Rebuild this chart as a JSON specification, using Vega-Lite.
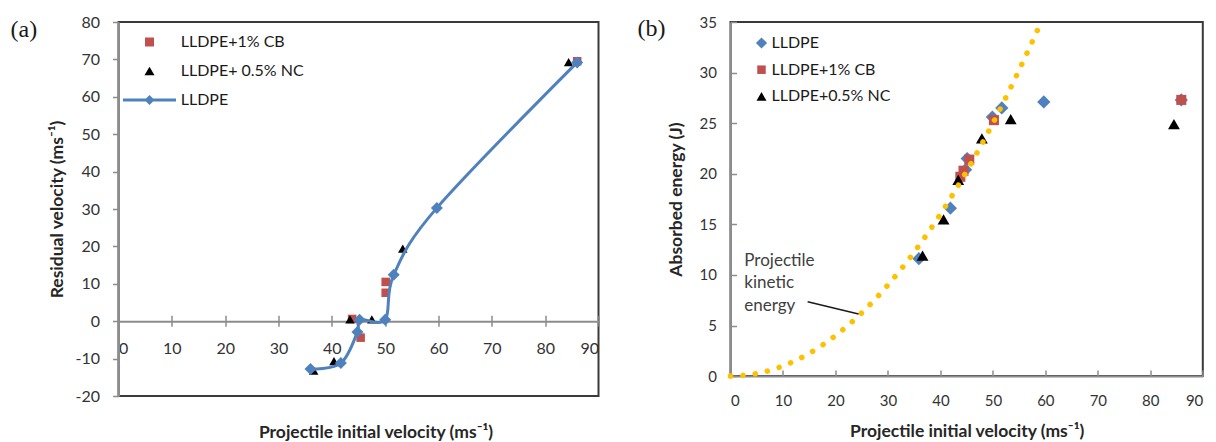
{
  "$schema": "https://vega.github.io/schema/vega-lite/v6.json",
  "background": "white",
  "padding": {"left": 9.5, "top": 10, "right": 0, "bottom": 0},
  "config": {
    "view": {"stroke": "#3a3a3a", "strokeWidth": 2},
    "font": "Lato",
    "axis": {"grid": false, "labelFont": "Lato", "titleFont": "Lato", "labelColor": "#333333", "titleColor": "#262626", "titleFontWeight": "bold", "titleFontSize": 17.5, "domainColor": "#8c8c8c", "domainWidth": 2, "tickColor": "#8c8c8c", "tickWidth": 1.5},
    "legend": {"labelFont": "Lato", "labelFontSize": 16, "labelColor": "#1a1a1a", "padding": 0}
  },
  "datasets": {
    "a": [
      {"series": "LLDPE+1% CB", "v": 43.8, "r": 0.6},
      {"series": "LLDPE+1% CB", "v": 45.4, "r": -4.4},
      {"series": "LLDPE+1% CB", "v": 50.1, "r": 7.6},
      {"series": "LLDPE+1% CB", "v": 50.1, "r": 10.5},
      {"series": "LLDPE+1% CB", "v": 86.0, "r": 69.5},
      {"series": "LLDPE+ 0.5% NC", "v": 36.6, "r": -13.2},
      {"series": "LLDPE+ 0.5% NC", "v": 40.4, "r": -10.7},
      {"series": "LLDPE+ 0.5% NC", "v": 43.4, "r": 0.5},
      {"series": "LLDPE+ 0.5% NC", "v": 47.5, "r": 0.5},
      {"series": "LLDPE+ 0.5% NC", "v": 53.3, "r": 19.4},
      {"series": "LLDPE+ 0.5% NC", "v": 84.4, "r": 69.3},
      {"series": "LLDPE", "v": 36.0, "r": -12.8},
      {"series": "LLDPE", "v": 41.7, "r": -11.2},
      {"series": "LLDPE", "v": 44.8, "r": -2.9},
      {"series": "LLDPE", "v": 45.2, "r": 0.4},
      {"series": "LLDPE", "v": 50.0, "r": 0.4},
      {"series": "LLDPE", "v": 51.6, "r": 12.4},
      {"series": "LLDPE", "v": 59.7, "r": 30.3},
      {"series": "LLDPE", "v": 86.0, "r": 69.2}
    ],
    "b": [
      {"series": "LLDPE", "v": 35.9, "e": 11.6},
      {"series": "LLDPE", "v": 41.9, "e": 16.6},
      {"series": "LLDPE", "v": 44.8, "e": 20.4},
      {"series": "LLDPE", "v": 45.1, "e": 21.5},
      {"series": "LLDPE", "v": 49.9, "e": 25.6},
      {"series": "LLDPE", "v": 51.7, "e": 26.5},
      {"series": "LLDPE", "v": 59.7, "e": 27.1},
      {"series": "LLDPE", "v": 85.9, "e": 27.3},
      {"series": "LLDPE+1% CB", "v": 43.8, "e": 19.7},
      {"series": "LLDPE+1% CB", "v": 44.4, "e": 20.3},
      {"series": "LLDPE+1% CB", "v": 45.5, "e": 21.4},
      {"series": "LLDPE+1% CB", "v": 50.2, "e": 25.3},
      {"series": "LLDPE+1% CB", "v": 85.9, "e": 27.3},
      {"series": "LLDPE+0.5% NC", "v": 36.6, "e": 11.9},
      {"series": "LLDPE+0.5% NC", "v": 40.6, "e": 15.5},
      {"series": "LLDPE+0.5% NC", "v": 43.4, "e": 19.4},
      {"series": "LLDPE+0.5% NC", "v": 47.9, "e": 23.5},
      {"series": "LLDPE+0.5% NC", "v": 53.4, "e": 25.4},
      {"series": "LLDPE+0.5% NC", "v": 84.5, "e": 24.9},
      {"series": "KE", "v": 0, "e": 0},
      {"series": "KE", "v": 5, "e": 0.25},
      {"series": "KE", "v": 10, "e": 1.0},
      {"series": "KE", "v": 15, "e": 2.25},
      {"series": "KE", "v": 20, "e": 4.0},
      {"series": "KE", "v": 25, "e": 6.25},
      {"series": "KE", "v": 30, "e": 9.0},
      {"series": "KE", "v": 35, "e": 12.25},
      {"series": "KE", "v": 40, "e": 16.0},
      {"series": "KE", "v": 45, "e": 20.25},
      {"series": "KE", "v": 50, "e": 25.0},
      {"series": "KE", "v": 55, "e": 30.25},
      {"series": "KE", "v": 59.2, "e": 35.0},
      {"series": "leader", "v": 14.7, "e": 7.35, "v2": 24.4, "e2": 6.14},
      {"series": "note", "v": 2.63, "e": 10.9, "label": "Projectile\nkinetic\nenergy"}
    ]
  },
  "spacing": 132,
  "bounds": "flush",
  "resolve": {"scale": {"x": "independent", "y": "independent", "color": "independent", "shape": "independent"}},
  "hconcat": [
    {
      "width": 480,
      "height": 374,
      "title": {"text": "(a)", "orient": "top", "anchor": "start", "frame": "group", "offset": -46.7, "dx": -108, "font": "Liberation Serif", "fontSize": 24, "fontWeight": "normal", "color": "#1a1a1a", "baseline": "alphabetic"},
      "data": {"name": "a"},
      "encoding": {
        "x": {"field": "v", "type": "quantitative", "scale": {"domain": [0, 90], "nice": false, "zero": false},
          "axis": {"orient": "bottom", "offset": -74.8, "values": [0, 10, 20, 30, 40, 50, 60, 70, 80, 90], "tickSize": 5, "labelFontSize": 16, "labelPadding": 14, "title": "Projectile initial velocity (ms⁻¹)", "titleX": 257, "titleY": 111, "titleBaseline": "middle"}},
        "y": {"field": "r", "type": "quantitative", "scale": {"domain": [-20, 80], "nice": false, "zero": false},
          "axis": {"values": [-20, -10, 0, 10, 20, 30, 40, 50, 60, 70, 80], "tickSize": 6, "labelPadding": 13, "labelFontSize": 16, "labelExpr": "'' + datum.value", "title": "Residual velocity (ms⁻¹)", "titleX": -61, "titleBaseline": "middle"}}
      },
      "layer": [
        {
          "transform": [{"filter": "datum.series !== 'LLDPE'"}],
          "mark": {"type": "point", "filled": true, "opacity": 1, "size": 90},
          "encoding": {
            "color": {"field": "series", "type": "nominal",
              "scale": {"domain": ["LLDPE+1% CB", "LLDPE+ 0.5% NC", "LLDPE"], "range": ["#C0504D", "#000000", "#4F81BD"]},
              "legend": {"title": null, "orient": "none", "legendX": 23, "legendY": 12, "symbolSize": 100, "symbolStrokeWidth": 0, "labelOffset": 23.2, "rowPadding": 13, "labelFontSize": 16}},
            "shape": {"field": "series", "type": "nominal",
              "scale": {"domain": ["LLDPE+1% CB", "LLDPE+ 0.5% NC", "LLDPE"], "range": ["M-0.9,-0.9L0.9,-0.9L0.9,0.9L-0.9,0.9Z", "triangle-up", "M-5.3,-0.3L5.3,-0.3L5.3,0.3L-5.3,0.3Z M0,-1L1,0L0,1L-1,0Z"]}}
          }
        },
        {
          "transform": [{"filter": "datum.series === 'LLDPE'"}],
          "mark": {"type": "line", "interpolate": "cardinal", "color": "#4F81BD", "strokeWidth": 3},
          "encoding": {
            "x": {"field": "v", "type": "quantitative", "scale": {"domain": [0, 90], "nice": false, "zero": false},
              "axis": {"orient": "top", "offset": -299.2, "values": [0, 10, 20, 30, 40, 50, 60, 70, 80, 90], "labels": false, "domain": false, "tickSize": 6, "title": null}}
          }
        },
        {
          "transform": [{"filter": "datum.series === 'LLDPE'"}],
          "mark": {"type": "point", "shape": "diamond", "filled": true, "opacity": 1, "size": 144, "color": "#4F81BD"},
          "encoding": {
            "x": {"field": "v", "type": "quantitative", "scale": {"domain": [0, 90], "nice": false, "zero": false}, "axis": null}
          }
        }
      ],
      "resolve": {"axis": {"x": "independent"}}
    },
    {
      "width": 472.3,
      "height": 354.1,
      "title": {"text": "(b)", "orient": "top", "anchor": "start", "frame": "group", "offset": -48.5, "dx": -93, "font": "Liberation Serif", "fontSize": 24, "fontWeight": "normal", "color": "#1a1a1a", "baseline": "alphabetic"},
      "data": {"name": "b"},
      "encoding": {
        "x": {"field": "v", "type": "quantitative", "scale": {"domain": [0, 90], "nice": false, "zero": false},
          "axis": {"values": [0, 10, 20, 30, 40, 50, 60, 70, 80, 90], "tickSize": -6, "labelPadding": 23, "labelFontSize": 15, "title": "Projectile initial velocity (ms⁻¹)", "titleY": 55, "titleBaseline": "middle"}},
        "y": {"field": "e", "type": "quantitative", "scale": {"domain": [0, 35], "nice": false, "zero": false},
          "axis": {"values": [0, 5, 10, 15, 20, 25, 30, 35], "tickSize": -6, "labelPadding": 20, "labelFontSize": 15, "title": "Absorbed energy (J)", "titleX": -54, "titleBaseline": "middle"}}
      },
      "layer": [
        {
          "transform": [{"filter": "indexof(['LLDPE', 'LLDPE+1% CB', 'LLDPE+0.5% NC'], datum.series) >= 0"}],
          "mark": {"type": "point", "filled": true, "opacity": 1, "size": 140},
          "encoding": {
            "color": {"field": "series", "type": "nominal",
              "scale": {"domain": ["LLDPE", "LLDPE+1% CB", "LLDPE+0.5% NC"], "range": ["#4F81BD", "#C0504D", "#000000"]},
              "legend": {"title": null, "orient": "none", "legendX": 23, "legendY": 13, "symbolSize": 100, "symbolStrokeWidth": 0, "labelOffset": 2, "rowPadding": 10.7, "labelFontSize": 16}},
            "shape": {"field": "series", "type": "nominal",
              "scale": {"domain": ["LLDPE", "LLDPE+1% CB", "LLDPE+0.5% NC"], "range": ["M0,-1.12L1.12,0L0,1.12L-1.12,0Z", "M-0.85,-0.85L0.85,-0.85L0.85,0.85L-0.85,0.85Z", "triangle-up"]}}
          }
        },
        {
          "transform": [{"filter": "datum.series === 'KE'"}],
          "mark": {"type": "line", "interpolate": "monotone", "color": "#FFC000", "strokeWidth": 5.5, "strokeDash": [0.1, 12.3], "strokeCap": "round"},
          "encoding": {}
        },
        {
          "transform": [{"filter": "datum.series === 'leader'"}],
          "mark": {"type": "rule", "color": "#1a1a1a", "strokeWidth": 1.5},
          "encoding": {"x2": {"field": "v2"}, "y2": {"field": "e2"}}
        },
        {
          "transform": [{"filter": "datum.series === 'note'"}],
          "mark": {"type": "text", "align": "left", "baseline": "alphabetic", "font": "Lato", "fontSize": 17, "lineBreak": "\n", "lineHeight": 22.5, "color": "#404040"},
          "encoding": {"text": {"field": "label"}}
        }
      ]
    }
  ]
}
